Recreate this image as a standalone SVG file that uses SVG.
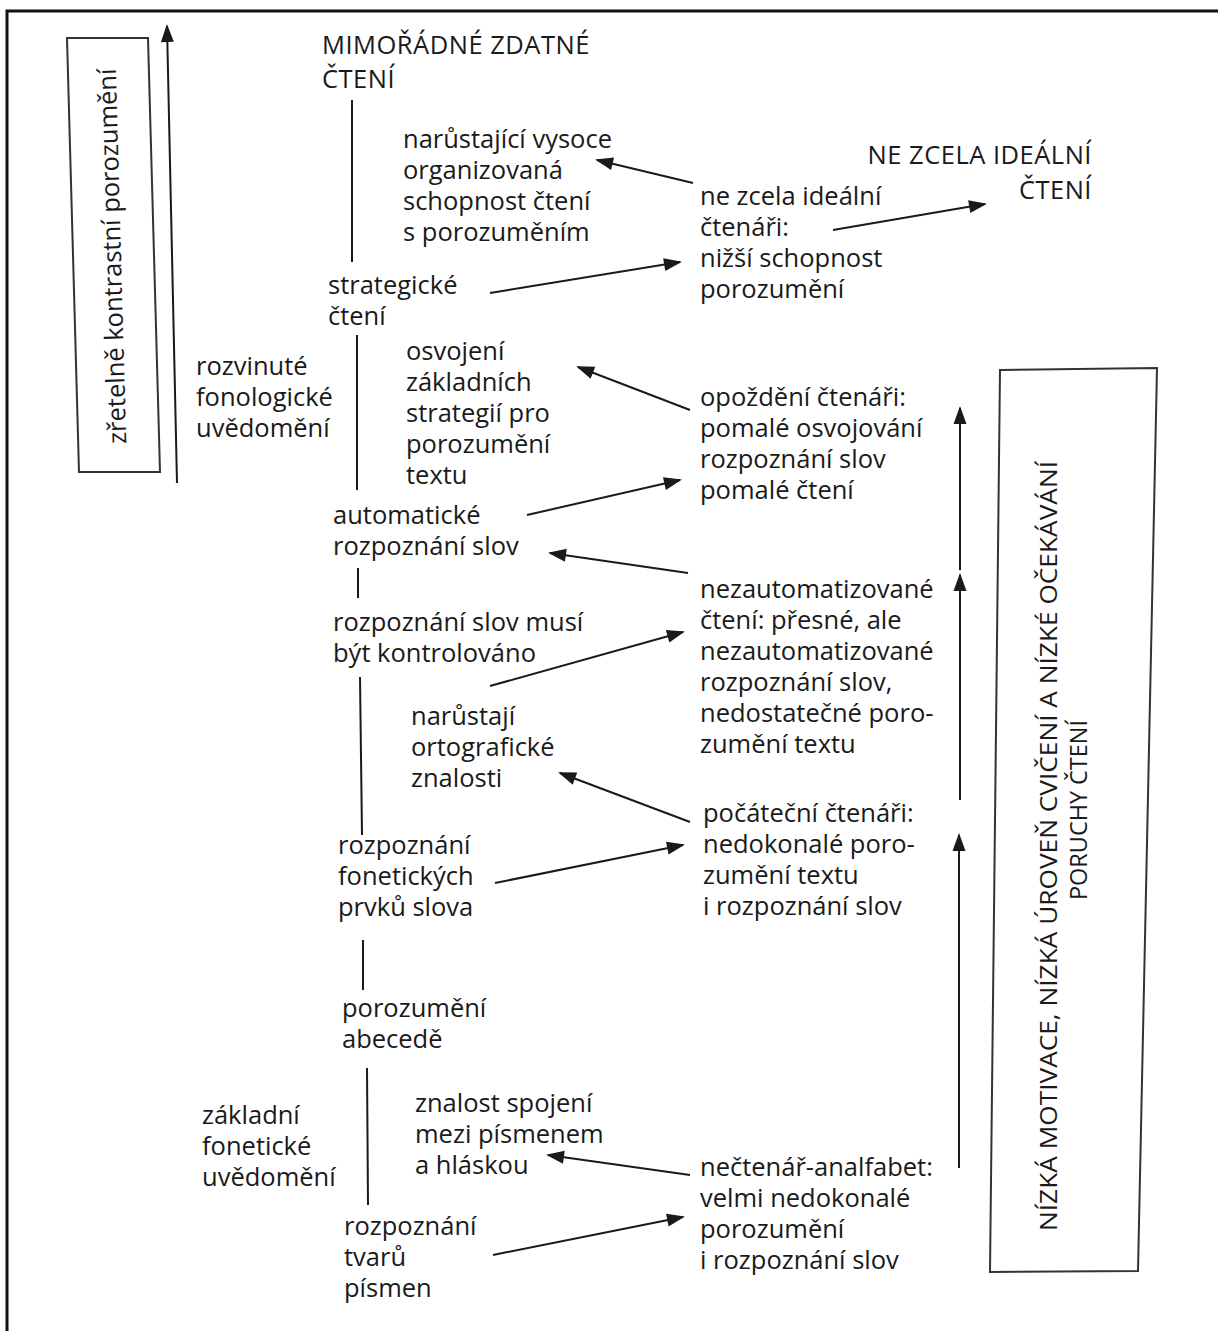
<svg xmlns="http://www.w3.org/2000/svg" width="1218" height="1331" viewBox="0 0 1218 1331">
<style>
text{font-family:"Open Sans","Liberation Sans",sans-serif;font-size:25.5px;fill:#1a1a1a}
.cap{font-size:25.5px;letter-spacing:0.5px}
.rot{font-size:24px}
.ln{stroke:#1a1a1a;stroke-width:2;fill:none}
.ar{stroke:#1a1a1a;stroke-width:2;fill:none;marker-end:url(#ah)}
.box{stroke:#333;stroke-width:2;fill:none}
</style>
<defs>
<marker id="ah" viewBox="-18 -7 20 14" refX="0" refY="0" markerWidth="20" markerHeight="14" markerUnits="userSpaceOnUse" orient="auto" overflow="visible">
<path d="M2,0 L-16,-6.5 L-16,6.5 z" fill="#1a1a1a"/>
</marker>
</defs>
<rect width="1218" height="1331" fill="#fff"/>
<path d="M7,1331 V11 H1218" stroke="#111" stroke-width="3" fill="none"/>

<g id="left-box">
<path class="box" d="M67,38 L148,38 L160,472 L79,472 Z"/>
<text transform="translate(121,256) rotate(-91.6)" text-anchor="middle">zřetelně kontrastní porozumění</text>
</g>

<g id="right-box">
<path class="box" d="M1000,370 L1157,368 L1138,1271 L990,1272 Z"/>
<text class="rot" transform="translate(1057,846) rotate(-90)" text-anchor="middle" textLength="770" lengthAdjust="spacingAndGlyphs">NÍZKÁ MOTIVACE, NÍZKÁ ÚROVEŇ CVIČENÍ A NÍZKÉ OČEKÁVÁNÍ</text>
<text class="rot" transform="translate(1087,810) rotate(-90)" text-anchor="middle" textLength="180" lengthAdjust="spacingAndGlyphs">PORUCHY ČTENÍ</text>
</g>

<g id="n-mimoradne"><text class="cap" x="322" y="54">MIMOŘÁDNÉ ZDATNÉ<tspan x="322" y="88">ČTENÍ</tspan></text></g>
<g id="n-narustajici"><text x="403" y="148">narůstající vysoce<tspan x="403" y="179">organizovaná</tspan><tspan x="403" y="210">schopnost čtení</tspan><tspan x="403" y="241">s porozuměním</tspan></text></g>
<g id="n-strategicke"><text x="328" y="294">strategické<tspan x="328" y="325">čtení</tspan></text></g>
<g id="n-osvojeni"><text x="406" y="360">osvojení<tspan x="406" y="391">základních</tspan><tspan x="406" y="422">strategií pro</tspan><tspan x="406" y="453">porozumění</tspan><tspan x="406" y="484">textu</tspan></text></g>
<g id="n-rozvinute"><text x="196" y="375">rozvinuté<tspan x="196" y="406">fonologické</tspan><tspan x="196" y="437">uvědomění</tspan></text></g>
<g id="n-automaticke"><text x="333" y="524">automatické<tspan x="333" y="555">rozpoznání slov</tspan></text></g>
<g id="n-kontrolovano"><text x="333" y="631">rozpoznání slov musí<tspan x="333" y="662">být kontrolováno</tspan></text></g>
<g id="n-ortograficke"><text x="411" y="725">narůstají<tspan x="411" y="756">ortografické</tspan><tspan x="411" y="787">znalosti</tspan></text></g>
<g id="n-foneticke-prvky"><text x="338" y="854">rozpoznání<tspan x="338" y="885">fonetických</tspan><tspan x="338" y="916">prvků slova</tspan></text></g>
<g id="n-abecede"><text x="342" y="1017">porozumění<tspan x="342" y="1048">abecedě</tspan></text></g>
<g id="n-zakladni"><text x="202" y="1124">základní<tspan x="202" y="1155">fonetické</tspan><tspan x="202" y="1186">uvědomění</tspan></text></g>
<g id="n-znalost"><text x="415" y="1112">znalost spojení<tspan x="415" y="1143">mezi písmenem</tspan><tspan x="415" y="1174">a hláskou</tspan></text></g>
<g id="n-tvaru"><text x="344" y="1235">rozpoznání<tspan x="344" y="1266">tvarů</tspan><tspan x="344" y="1297">písmen</tspan></text></g>

<g id="n-ne-zcela"><text x="700" y="205">ne zcela ideální<tspan x="700" y="236">čtenáři:</tspan><tspan x="700" y="267">nižší schopnost</tspan><tspan x="700" y="298">porozumění</tspan></text></g>
<g id="n-NE-ZCELA"><text class="cap" x="1092" y="164" text-anchor="end">NE ZCELA IDEÁLNÍ<tspan x="1092" y="199">ČTENÍ</tspan></text></g>
<g id="n-opozdeni"><text x="700" y="406">opoždění čtenáři:<tspan x="700" y="437">pomalé osvojování</tspan><tspan x="700" y="468">rozpoznání slov</tspan><tspan x="700" y="499">pomalé čtení</tspan></text></g>
<g id="n-nezautomatizovane"><text x="700" y="598">nezautomatizované<tspan x="700" y="629">čtení: přesné, ale</tspan><tspan x="700" y="660">nezautomatizované</tspan><tspan x="700" y="691">rozpoznání slov,</tspan><tspan x="700" y="722">nedostatečné poro-</tspan><tspan x="700" y="753">zumění textu</tspan></text></g>
<g id="n-pocatecni"><text x="703" y="822">počáteční čtenáři:<tspan x="703" y="853">nedokonalé poro-</tspan><tspan x="703" y="884">zumění textu</tspan><tspan x="703" y="915">i rozpoznání slov</tspan></text></g>
<g id="n-nectenar"><text x="700" y="1176">nečtenář-analfabet:<tspan x="700" y="1207">velmi nedokonalé</tspan><tspan x="700" y="1238">porozumění</tspan><tspan x="700" y="1269">i rozpoznání slov</tspan></text></g>

<g id="connectors">
<line class="ar" x1="177" y1="483" x2="167" y2="26"/>
<line class="ln" x1="352" y1="100" x2="352" y2="262"/>
<line class="ln" x1="357" y1="335" x2="357" y2="490"/>
<line class="ln" x1="358" y1="568" x2="358" y2="598"/>
<line class="ln" x1="360" y1="677" x2="362" y2="835"/>
<line class="ln" x1="363" y1="940" x2="363" y2="990"/>
<line class="ln" x1="367" y1="1068" x2="368" y2="1205"/>
<line class="ar" x1="693" y1="183" x2="597" y2="160"/>
<line class="ar" x1="833" y1="230" x2="985" y2="204"/>
<line class="ar" x1="490" y1="293" x2="680" y2="262"/>
<line class="ar" x1="690" y1="410" x2="578" y2="367"/>
<line class="ar" x1="527" y1="515" x2="680" y2="480"/>
<line class="ar" x1="688" y1="573" x2="550" y2="553"/>
<line class="ar" x1="490" y1="686" x2="683" y2="632"/>
<line class="ar" x1="690" y1="822" x2="560" y2="773"/>
<line class="ar" x1="495" y1="883" x2="683" y2="845"/>
<line class="ar" x1="690" y1="1175" x2="548" y2="1155"/>
<line class="ar" x1="493" y1="1255" x2="683" y2="1217"/>
<line class="ar" x1="960" y1="570" x2="960" y2="408"/>
<line class="ar" x1="960" y1="800" x2="960" y2="575"/>
<line class="ar" x1="959" y1="1168" x2="959" y2="835"/>
</g>
</svg>
